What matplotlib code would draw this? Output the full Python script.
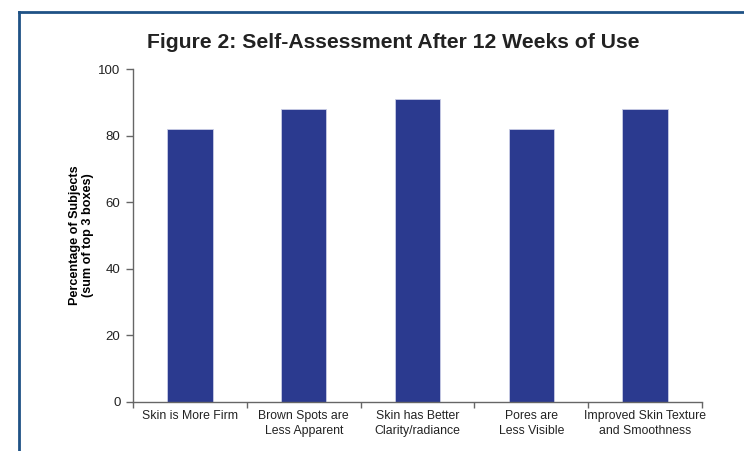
import matplotlib
matplotlib.use("Agg")
import matplotlib.pyplot as plt
from matplotlib.lines import Line2D

plt.rcParams['font.family'] = ['Liberation Sans', 'DejaVu Sans']

categories = ["Skin is More Firm", "Brown Spots are\nLess Apparent", "Skin has Better\nClarity/radiance",
              "Pores are\nLess Visible", "Improved Skin Texture\nand Smoothness"]
values = [82, 88, 91, 82, 88]
yticks = [0, 20, 40, 60, 80, 100]

W, H = 744, 451
fig = plt.figure(figsize=(W/100, H/100), dpi=100)
ax = fig.add_axes([133/W, 1-402/H, (702-133)/W, (402-69)/H])

x = list(range(len(categories)))
ax.bar(x, values, width=0.4, color="#2b3a8f", edgecolor="#c9cde6", linewidth=0.6)
ax.set_xlim(-0.5, len(categories)-0.5)
ax.set_ylim(0, 100)
ax.set_yticks(yticks)
ax.set_yticklabels([str(v) for v in yticks], fontsize=9.5, color="#222222")
ax.set_xticks(x)
ax.set_xticklabels(categories, fontsize=8.8, color="#222222", linespacing=1.28)
ax.tick_params(axis='x', length=0, pad=6)
ax.set_xticks([i + 0.5 for i in range(-1, len(categories))], minor=True)
ax.tick_params(axis='x', which='minor', length=4, color="#666666", width=1)
ax.tick_params(axis='y', length=5, color="#666666", width=1, pad=4)
for s in ['top', 'right']:
    ax.spines[s].set_visible(False)
for s in ['left', 'bottom']:
    ax.spines[s].set_color("#666666")
    ax.spines[s].set_linewidth(1)

ax.set_ylabel("Percentage of Subjects\n(sum of top 3 boxes)", fontsize=9.1, fontweight='bold', labelpad=3,
              linespacing=1.1)

fig.text(393/W, 1-43/H, "Figure 2: Self-Assessment After 12 Weeks of Use", ha='center', va='center',
         fontsize=15.2, fontweight='bold', color="#222222")

# frame lines
fig.add_artist(Line2D([19/W, 19/W], [0, 1-12/H], transform=fig.transFigure, color="#1f5285", linewidth=2))
fig.add_artist(Line2D([19/W, 1], [1-12/H, 1-12/H], transform=fig.transFigure, color="#1f5285", linewidth=2))

fig.savefig("out.png", dpi=100)
